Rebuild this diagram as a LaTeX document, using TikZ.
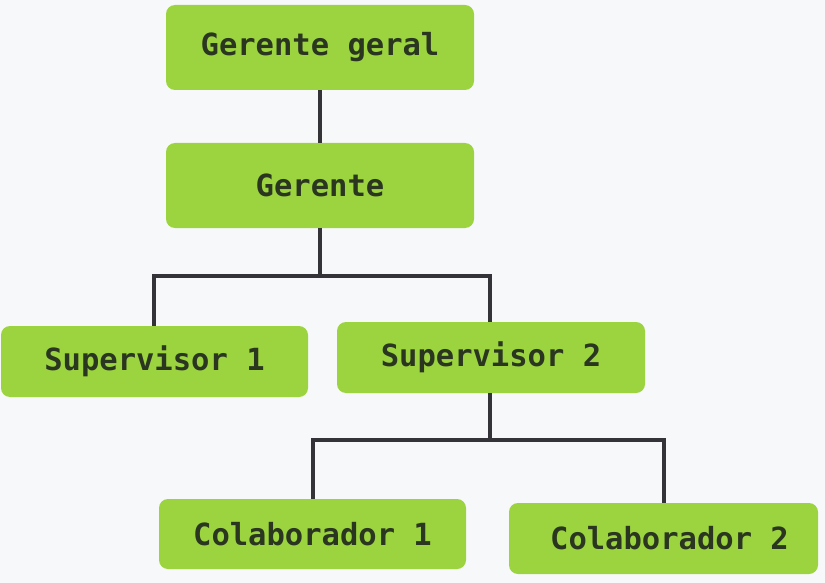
\documentclass[tikz,border=0pt]{standalone}
\usepackage{fontspec}
\setmonofont{DejaVu Sans Mono}
\definecolor{bg}{RGB}{247,248,250}
\definecolor{boxgreen}{RGB}{156,212,64}
\definecolor{txt}{RGB}{42,54,32}
\definecolor{ln}{RGB}{52,52,56}
\begin{document}
\begin{tikzpicture}[x=1pt,y=-1pt,
  box/.style={draw=none,fill=boxgreen,rounded corners=9pt,inner sep=0pt,
    font=\ttfamily\bfseries\fontsize{30.5}{33}\selectfont,text=txt},
  conn/.style={draw=ln,line width=3.5pt}]
\fill[bg] (0,0) rectangle (825,583);
\useasboundingbox (0,0) rectangle (825,583);
\node[box,minimum width=308pt,minimum height=85pt] (gg) at (320,47.5) {Gerente geral};
\node[box,minimum width=308pt,minimum height=85pt] (g) at (320,185.5) {Gerente};
\node[box,minimum width=307pt,minimum height=71pt] (s1) at (154.5,361.5) {Supervisor 1};
\node[box,minimum width=308pt,minimum height=71pt] (s2) at (491,357.5) {Supervisor 2};
\node[box,minimum width=307pt,minimum height=70pt] (c1) at (312.5,534) {Colaborador 1};
\node[box,minimum width=309pt,minimum height=71pt] (c2) at (663.5,538.5) {\hspace{12pt}Colaborador 2};
\coordinate (j1) at (320,276);
\coordinate (j2) at (490,440);
\draw[conn] (gg.south) -- (g.north);
\draw[conn] (g.south) -- (j1);
\draw[conn] (s1.north -| 154,0) |- (j1) -| (s2.north -| 490,0);
\draw[conn] (s2.south -| 490,0) -- (j2);
\draw[conn] (c1.north -| 313,0) |- (j2) -| (c2.north -| 664,0);
\end{tikzpicture}
\end{document}
